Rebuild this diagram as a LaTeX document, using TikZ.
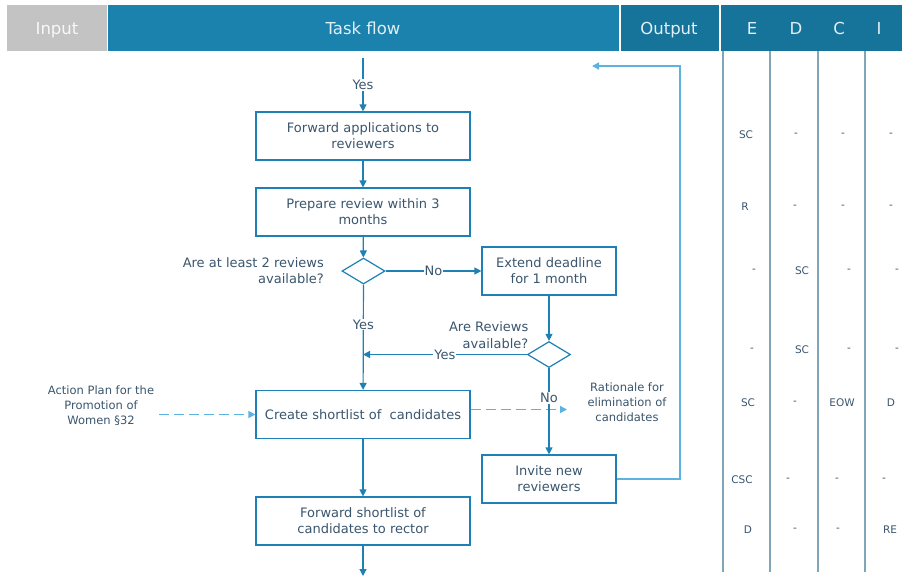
\documentclass[tikz,border=0pt]{standalone}
\usepackage{fontspec}
\setmainfont{DejaVu Sans}
\usetikzlibrary{arrows.meta,shapes.geometric}
\definecolor{hdr}{HTML}{1A82AD}
\definecolor{hdrd}{HTML}{16739A}
\definecolor{inp}{HTML}{C3C3C3}
\definecolor{flow}{HTML}{1E80B4}
\definecolor{txt}{HTML}{3A566E}
\definecolor{lite}{HTML}{5DB3DF}
\definecolor{racil}{HTML}{7FA6B8}
\definecolor{hdtxt}{HTML}{E2EFF5}
\begin{document}
\begin{tikzpicture}[x=1pt,y=-1pt,
  box/.style={draw=flow, line width=1.2pt, minimum width=214pt, minimum height=48pt,
    align=center, text=txt, font=\fontsize{13}{16}\selectfont, inner sep=0pt},
  sbox/.style={box, minimum width=134pt},
  dia/.style={diamond, draw=flow, line width=1.2pt, minimum width=43pt, minimum height=26pt, inner sep=0pt},
  arr/.style={draw=flow, line width=1.2pt, -{Triangle[length=7pt,width=7pt]}},
  looparr/.style={draw=lite, line width=1.5pt, -{Triangle[length=7pt,width=7pt]}},
  dasharr/.style={draw=lite, line width=1.5pt, dash pattern=on 10pt off 5pt, -{Triangle[length=7pt,width=7pt]}},
  lbl/.style={fill=white, inner sep=1pt, text=txt, font=\fontsize{13}{16}\selectfont},
  note/.style={text=txt, font=\fontsize{13}{16.5}\selectfont, inner sep=0pt},
  small/.style={text=txt, font=\fontsize{11.5}{15}\selectfont, align=center, inner sep=0pt},
  hd/.style={text=hdtxt, font=\fontsize{16.5}{20}\selectfont, anchor=base, inner sep=0pt},
  raci/.style={text=txt, font=\fontsize{10.5}{12}\selectfont},
  racil/.style={draw=racil, line width=2pt}
]
\fill[white] (0,0) rectangle (902,576);
\useasboundingbox (0,0) rectangle (902,576);
% header
\fill[inp] (7,5) rectangle (107,51);
\fill[hdr] (108,5) rectangle (619,51);
\fill[hdrd] (621,5) rectangle (719,51);
\fill[hdrd] (721,5) rectangle (902,51);
\node[hd, text=white!88!inp] (hin) at (57,34) {Input};
\node[hd] (htf) at (363,34) {Task flow};
\node[hd] (hout) at (669,34) {Output};
\node[hd] (hE) at (752,34) {E};
\node[hd] (hD) at (796,34) {D};
\node[hd] (hC) at (839,34) {C};
\node[hd] (hI) at (879,34) {I};
% RACI column lines
\draw[racil] (722.5,51) -- (722.5,572);
\draw[racil] (769.5,51) -- (769.5,572);
\draw[racil] (817.5,51) -- (817.5,572);
\draw[racil] (865,51) -- (865,572);
% flow nodes
\node[box] (b1) at (363,136) {Forward applications to\\reviewers};
\node[box] (b2) at (363,212) {Prepare review within 3\\months};
\node[dia] (d1) at (363.5,271) {};
\node[sbox] (b3) at (549,271) {Extend deadline\\for 1 month};
\node[dia] (d2) at (549,354.5) {};
\node[box] (b4) at (363,414.5) {Create shortlist of\ \ candidates};
\node[sbox] (b5) at (549,479) {Invite new\\reviewers};
\node[box] (b6) at (363,521) {Forward shortlist of\\candidates to rector};
% notes
\node[note, anchor=east, align=right] (q1) at (324,270.5) {Are at least 2 reviews\\available?};
\node[note, anchor=east, align=right] (q2) at (528.5,335) {Are Reviews\\available?};
\node[small] (ap) at (101,406) {Action Plan for the\\Promotion of\\Women §32};
\node[small] (rat) at (627,402) {Rationale for\\elimination of\\candidates};
% coordinates
\coordinate (top) at (363,58);
\coordinate (j) at (363,354.5);
\coordinate (bot) at (363,576);
\coordinate (lc1) at (680,479);
\coordinate (lc2) at (680,66);
\coordinate (lend) at (592,66);
\coordinate (ratin) at (567,409.5);
% connectors
\draw[arr] (top) -- node[lbl]{Yes} (b1);
\draw[arr] (b1) -- (b2);
\draw[arr] (b2) -- (d1);
\draw[arr] (d1) -- node[lbl]{No} (b3);
\draw[arr] (d1) -- node[lbl, pos=0.38]{Yes} (b4);
\draw[arr] (b3) -- (d2);
\draw[arr] (d2) -- node[lbl]{Yes} (j);
\draw[arr] (b4) -- (b6);
\draw[arr] (b6) -- (bot);
\draw[looparr] (b5.east) -- (lc1) -- (lc2) -- (lend);
\draw[dasharr] ([xshift=5pt]ap.east |- b4.west) -- (b4.west);
\draw[dasharr] ([yshift=5pt]b4.east) -- (ratin);
\draw[arr] (d2) -- node[lbl, pos=0.35]{No} (b5);
% RACI entries
\node[raci] (r1e) at (746,135) {SC};
\node[raci] (r1d) at (796,135) {-};
\node[raci] (r1c) at (843,135) {-};
\node[raci] (r1i) at (891,135) {-};
\node[raci] (r2e) at (745,207) {R};
\node[raci] (r2d) at (795,207) {-};
\node[raci] (r2c) at (843,207) {-};
\node[raci] (r2i) at (891,207) {-};
\node[raci] (r3e) at (754,271) {-};
\node[raci] (r3d) at (802,271) {SC};
\node[raci] (r3c) at (849,271) {-};
\node[raci] (r3i) at (897,271) {-};
\node[raci] (r4e) at (752,350) {-};
\node[raci] (r4d) at (802,350) {SC};
\node[raci] (r4c) at (849,350) {-};
\node[raci] (r4i) at (897,350) {-};
\node[raci] (r5e) at (748,403) {SC};
\node[raci] (r5d) at (795,403) {-};
\node[raci] (r5c) at (842,403) {EOW};
\node[raci] (r5i) at (891,403) {D};
\node[raci] (r6e) at (742,480) {CSC};
\node[raci] (r6d) at (788,480) {-};
\node[raci] (r6c) at (837,480) {-};
\node[raci] (r6i) at (884,480) {-};
\node[raci] (r7e) at (748,530) {D};
\node[raci] (r7d) at (795,530) {-};
\node[raci] (r7c) at (838,530) {-};
\node[raci] (r7i) at (890,530) {RE};
\end{tikzpicture}
\end{document}
